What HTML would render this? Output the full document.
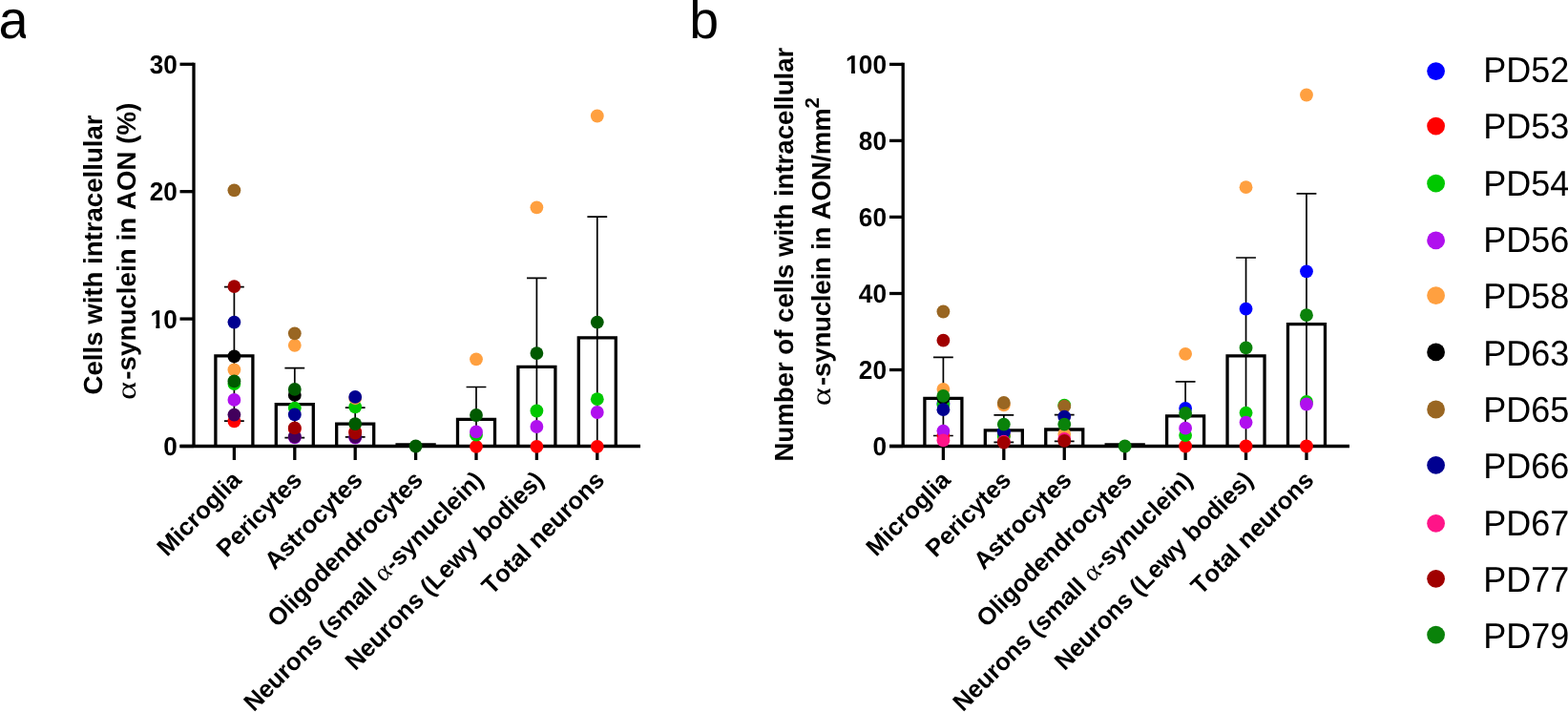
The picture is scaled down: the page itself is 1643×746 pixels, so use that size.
<!DOCTYPE html>
<html lang="en"><head><meta charset="utf-8"><title>Figure</title>
<style>html,body{margin:0;padding:0;background:#fff;overflow:hidden}body{width:1643px;height:746px}svg{display:block}</style>
</head><body>
<svg width="1643" height="746" viewBox="0 0 1643 746" style="display:block;font-kerning:none" text-rendering="geometricPrecision">
<rect width="1643" height="746" fill="#ffffff"/>
<clipPath id="pa"><rect x="-4" y="0" width="31.1" height="60"/></clipPath>
<g clip-path="url(#pa)"><text x="-1.6" y="39.9" font-family="Liberation Sans, sans-serif" font-size="56">a</text></g>
<text x="722.3" y="40.4" font-family="Liberation Sans, sans-serif" font-size="55.5">b</text>
<path d="M245.40 300.60V441.10M235.00 300.60H255.80M235.00 441.10H255.80" stroke="#000" stroke-width="1.7" fill="none"/>
<path d="M308.80 385.60V458.60M298.40 385.60H319.20M298.40 458.60H319.20" stroke="#000" stroke-width="1.7" fill="none"/>
<path d="M372.20 427.20V457.80M361.80 427.20H382.60M361.80 457.80H382.60" stroke="#000" stroke-width="1.7" fill="none"/>
<path d="M499.00 405.50V467.50M488.60 405.50H509.40" stroke="#000" stroke-width="1.7" fill="none"/>
<path d="M562.40 291.40V467.50M552.00 291.40H572.80" stroke="#000" stroke-width="1.7" fill="none"/>
<path d="M625.80 227.10V467.50M615.40 227.10H636.20" stroke="#000" stroke-width="1.7" fill="none"/>
<path d="M225.90 467.50V372.80H264.90V467.50" stroke="#000" stroke-width="3.3" fill="none" stroke-linejoin="miter"/>
<path d="M289.30 467.50V423.60H328.30V467.50" stroke="#000" stroke-width="3.3" fill="none" stroke-linejoin="miter"/>
<path d="M352.70 467.50V444.10H391.70V467.50" stroke="#000" stroke-width="3.3" fill="none" stroke-linejoin="miter"/>
<path d="M416.10 467.50V465.90H455.10V467.50" stroke="#000" stroke-width="3.3" fill="none" stroke-linejoin="miter"/>
<path d="M479.50 467.50V439.40H518.50V467.50" stroke="#000" stroke-width="3.3" fill="none" stroke-linejoin="miter"/>
<path d="M542.90 467.50V384.30H581.90V467.50" stroke="#000" stroke-width="3.3" fill="none" stroke-linejoin="miter"/>
<path d="M606.30 467.50V353.90H645.30V467.50" stroke="#000" stroke-width="3.3" fill="none" stroke-linejoin="miter"/>
<path d="M188.50 467.50H671.00M203.00 65.65V469.15" stroke="#000" stroke-width="3.3" fill="none"/>
<path d="M188.50 67.30H203.00" stroke="#000" stroke-width="3.3"/>
<text transform="translate(185.80 76.90) scale(1 1.04)" text-anchor="end" font-family="Liberation Sans, sans-serif" font-weight="bold" font-size="26.2">30</text>
<path d="M188.50 200.70H203.00" stroke="#000" stroke-width="3.3"/>
<text transform="translate(185.80 210.30) scale(1 1.04)" text-anchor="end" font-family="Liberation Sans, sans-serif" font-weight="bold" font-size="26.2">20</text>
<path d="M188.50 334.10H203.00" stroke="#000" stroke-width="3.3"/>
<clipPath id="onea10"><path d="M153.46 314.88H188.80V346.70H171.83V339.51H167.38V346.70H163.35V339.51H153.46Z"/></clipPath>
<g clip-path="url(#onea10)"><text transform="translate(156.66 343.70) scale(1 1.04)" font-family="Liberation Sans, sans-serif" font-weight="bold" font-size="26.2"><tspan dx="0.8">1</tspan><tspan dx="-0.8">0</tspan></text></g>
<path d="M188.50 467.50H203.00" stroke="#000" stroke-width="3.3"/>
<text transform="translate(185.80 477.10) scale(1 1.04)" text-anchor="end" font-family="Liberation Sans, sans-serif" font-weight="bold" font-size="26.2">0</text>
<path d="M245.40 467.50V482.00" stroke="#000" stroke-width="3.3"/>
<path d="M308.80 467.50V482.00" stroke="#000" stroke-width="3.3"/>
<path d="M372.20 467.50V482.00" stroke="#000" stroke-width="3.3"/>
<path d="M435.60 467.50V482.00" stroke="#000" stroke-width="3.3"/>
<path d="M499.00 467.50V482.00" stroke="#000" stroke-width="3.3"/>
<path d="M562.40 467.50V482.00" stroke="#000" stroke-width="3.3"/>
<path d="M625.80 467.50V482.00" stroke="#000" stroke-width="3.3"/>
<circle cx="245.40" cy="441.40" r="6.9" fill="#ff0000"/>
<circle cx="308.80" cy="449.50" r="6.9" fill="#ff0000"/>
<circle cx="372.20" cy="452.50" r="6.9" fill="#ff0000"/>
<circle cx="499.00" cy="467.80" r="6.9" fill="#ff0000"/>
<circle cx="562.40" cy="467.80" r="6.9" fill="#ff0000"/>
<circle cx="625.80" cy="467.80" r="6.9" fill="#ff0000"/>
<circle cx="245.40" cy="402.10" r="6.9" fill="#00c800"/>
<circle cx="308.80" cy="427.60" r="6.9" fill="#00c800"/>
<circle cx="372.20" cy="426.30" r="6.9" fill="#00c800"/>
<circle cx="499.00" cy="455.70" r="6.9" fill="#00c800"/>
<circle cx="562.40" cy="430.50" r="6.9" fill="#00c800"/>
<circle cx="625.80" cy="418.20" r="6.9" fill="#00c800"/>
<circle cx="245.40" cy="418.90" r="6.9" fill="#b010ee"/>
<circle cx="308.80" cy="458.30" r="6.9" fill="#b010ee"/>
<circle cx="372.20" cy="458.60" r="6.9" fill="#b010ee"/>
<circle cx="499.00" cy="452.40" r="6.9" fill="#b010ee"/>
<circle cx="562.40" cy="447.00" r="6.9" fill="#b010ee"/>
<circle cx="625.80" cy="432.00" r="6.9" fill="#b010ee"/>
<circle cx="245.40" cy="387.40" r="6.9" fill="#ffa040"/>
<circle cx="308.80" cy="361.80" r="6.9" fill="#ffa040"/>
<circle cx="372.20" cy="417.00" r="6.9" fill="#ffa040"/>
<circle cx="499.00" cy="376.30" r="6.9" fill="#ffa040"/>
<circle cx="562.40" cy="217.30" r="6.9" fill="#ffa040"/>
<circle cx="625.80" cy="121.50" r="6.9" fill="#ffa040"/>
<circle cx="245.40" cy="373.40" r="6.9" fill="#000000"/>
<circle cx="308.80" cy="413.90" r="6.9" fill="#000000"/>
<circle cx="245.40" cy="199.30" r="6.9" fill="#996622"/>
<circle cx="308.80" cy="349.30" r="6.9" fill="#996622"/>
<circle cx="245.40" cy="337.60" r="6.9" fill="#000090"/>
<circle cx="308.80" cy="434.40" r="6.9" fill="#000090"/>
<circle cx="372.20" cy="415.90" r="6.9" fill="#000090"/>
<circle cx="245.40" cy="434.60" r="6.9" fill="#42005c"/>
<circle cx="308.80" cy="457.50" r="6.9" fill="#42005c"/>
<circle cx="372.20" cy="457.80" r="6.9" fill="#42005c"/>
<circle cx="245.40" cy="300.10" r="6.9" fill="#a00000"/>
<circle cx="308.80" cy="448.40" r="6.9" fill="#a00000"/>
<circle cx="372.20" cy="453.50" r="6.9" fill="#a00000"/>
<circle cx="245.40" cy="399.40" r="6.9" fill="#005a00"/>
<circle cx="308.80" cy="407.90" r="6.9" fill="#005a00"/>
<circle cx="372.20" cy="444.10" r="6.9" fill="#005a00"/>
<circle cx="435.60" cy="467.50" r="6.9" fill="#005a00"/>
<circle cx="499.00" cy="435.00" r="6.9" fill="#005a00"/>
<circle cx="562.40" cy="370.10" r="6.9" fill="#005a00"/>
<circle cx="625.80" cy="337.60" r="6.9" fill="#005a00"/>
<text transform="translate(254.40 504.50) rotate(-45)" text-anchor="end" font-family="Liberation Sans, sans-serif" font-weight="bold" font-size="25.6">Microglia</text>
<text transform="translate(317.80 504.50) rotate(-45)" text-anchor="end" font-family="Liberation Sans, sans-serif" font-weight="bold" font-size="25.6">Pericytes</text>
<text transform="translate(381.20 504.50) rotate(-45)" text-anchor="end" font-family="Liberation Sans, sans-serif" font-weight="bold" font-size="25.6">Astrocytes</text>
<text transform="translate(444.60 504.50) rotate(-45)" text-anchor="end" font-family="Liberation Sans, sans-serif" font-weight="bold" font-size="25.6">Oligodendrocytes</text>
<text transform="translate(508.00 504.50) rotate(-45)" x="-342.42" font-family="Liberation Sans, sans-serif" font-weight="bold" font-size="25.6">Neurons (small <tspan font-family="Liberation Serif, serif" font-weight="normal" font-size="26.50" textLength="14.60" lengthAdjust="spacingAndGlyphs">α</tspan><tspan dx="0.70">-synuclein)</tspan></text>
<text transform="translate(571.40 504.50) rotate(-45)" text-anchor="end" font-family="Liberation Sans, sans-serif" font-weight="bold" font-size="25.6">Neurons (Lewy bodies)</text>
<text transform="translate(634.80 504.50) rotate(-45)" text-anchor="end" font-family="Liberation Sans, sans-serif" font-weight="bold" font-size="25.6">Total neurons</text>
<text transform="translate(107.00 413.40) rotate(-90)" font-family="Liberation Sans, sans-serif" font-weight="bold" font-size="27.6">Cells with intracellular</text>
<text transform="translate(141.70 419.10) rotate(-90)" font-family="Liberation Sans, sans-serif" font-weight="bold" font-size="27.6"><tspan font-family="Liberation Serif, serif" font-weight="normal" font-size="29.00" textLength="19.13" lengthAdjust="spacingAndGlyphs">α</tspan><tspan dx="2.30"><tspan letter-spacing="0.09">-synuclein in AON (%)</tspan></tspan></text>
<path d="M988.40 374.30V456.50M978.00 374.30H998.80M978.00 456.50H998.80" stroke="#000" stroke-width="1.7" fill="none"/>
<path d="M1051.83 434.90V463.40M1041.43 434.90H1062.23M1041.43 463.40H1062.23" stroke="#000" stroke-width="1.7" fill="none"/>
<path d="M1115.26 434.60V462.40M1104.86 434.60H1125.66M1104.86 462.40H1125.66" stroke="#000" stroke-width="1.7" fill="none"/>
<path d="M1242.12 399.90V467.50M1231.72 399.90H1252.52" stroke="#000" stroke-width="1.7" fill="none"/>
<path d="M1305.55 270.00V467.50M1295.15 270.00H1315.95" stroke="#000" stroke-width="1.7" fill="none"/>
<path d="M1368.98 202.80V467.50M1358.58 202.80H1379.38" stroke="#000" stroke-width="1.7" fill="none"/>
<path d="M968.90 467.50V417.40H1007.90V467.50" stroke="#000" stroke-width="3.3" fill="none" stroke-linejoin="miter"/>
<path d="M1032.33 467.50V450.80H1071.33V467.50" stroke="#000" stroke-width="3.3" fill="none" stroke-linejoin="miter"/>
<path d="M1095.76 467.50V450.00H1134.76V467.50" stroke="#000" stroke-width="3.3" fill="none" stroke-linejoin="miter"/>
<path d="M1159.19 467.50V465.90H1198.19V467.50" stroke="#000" stroke-width="3.3" fill="none" stroke-linejoin="miter"/>
<path d="M1222.62 467.50V435.80H1261.62V467.50" stroke="#000" stroke-width="3.3" fill="none" stroke-linejoin="miter"/>
<path d="M1286.05 467.50V372.80H1325.05V467.50" stroke="#000" stroke-width="3.3" fill="none" stroke-linejoin="miter"/>
<path d="M1349.48 467.50V339.60H1388.48V467.50" stroke="#000" stroke-width="3.3" fill="none" stroke-linejoin="miter"/>
<path d="M932.00 467.50H1414.00M946.20 65.75V469.15" stroke="#000" stroke-width="3.3" fill="none"/>
<path d="M932.00 67.40H946.20" stroke="#000" stroke-width="3.3"/>
<clipPath id="oneb100"><path d="M882.08 48.18H932.00V80.00H900.46V72.81H896.01V80.00H891.98V72.81H882.08Z"/></clipPath>
<g clip-path="url(#oneb100)"><text transform="translate(885.28 77.00) scale(1 1.04)" font-family="Liberation Sans, sans-serif" font-weight="bold" font-size="26.2"><tspan dx="0.8">1</tspan><tspan dx="-0.8">00</tspan></text></g>
<path d="M932.00 147.40H946.20" stroke="#000" stroke-width="3.3"/>
<text transform="translate(929.00 157.00) scale(1 1.04)" text-anchor="end" font-family="Liberation Sans, sans-serif" font-weight="bold" font-size="26.2">80</text>
<path d="M932.00 227.40H946.20" stroke="#000" stroke-width="3.3"/>
<text transform="translate(929.00 237.00) scale(1 1.04)" text-anchor="end" font-family="Liberation Sans, sans-serif" font-weight="bold" font-size="26.2">60</text>
<path d="M932.00 307.50H946.20" stroke="#000" stroke-width="3.3"/>
<text transform="translate(929.00 317.10) scale(1 1.04)" text-anchor="end" font-family="Liberation Sans, sans-serif" font-weight="bold" font-size="26.2">40</text>
<path d="M932.00 387.50H946.20" stroke="#000" stroke-width="3.3"/>
<text transform="translate(929.00 397.10) scale(1 1.04)" text-anchor="end" font-family="Liberation Sans, sans-serif" font-weight="bold" font-size="26.2">20</text>
<path d="M932.00 467.50H946.20" stroke="#000" stroke-width="3.3"/>
<text transform="translate(929.00 477.10) scale(1 1.04)" text-anchor="end" font-family="Liberation Sans, sans-serif" font-weight="bold" font-size="26.2">0</text>
<path d="M988.40 467.50V482.00" stroke="#000" stroke-width="3.3"/>
<path d="M1051.83 467.50V482.00" stroke="#000" stroke-width="3.3"/>
<path d="M1115.26 467.50V482.00" stroke="#000" stroke-width="3.3"/>
<path d="M1178.69 467.50V482.00" stroke="#000" stroke-width="3.3"/>
<path d="M1242.12 467.50V482.00" stroke="#000" stroke-width="3.3"/>
<path d="M1305.55 467.50V482.00" stroke="#000" stroke-width="3.3"/>
<path d="M1368.98 467.50V482.00" stroke="#000" stroke-width="3.3"/>
<circle cx="988.40" cy="422.70" r="6.9" fill="#0000ff"/>
<circle cx="1051.83" cy="452.60" r="6.9" fill="#0000ff"/>
<circle cx="1242.12" cy="427.90" r="6.9" fill="#0000ff"/>
<circle cx="1305.55" cy="323.70" r="6.9" fill="#0000ff"/>
<circle cx="1368.98" cy="284.30" r="6.9" fill="#0000ff"/>
<circle cx="988.40" cy="456.20" r="6.9" fill="#ff0000"/>
<circle cx="1051.83" cy="456.50" r="6.9" fill="#ff0000"/>
<circle cx="1242.12" cy="467.50" r="6.9" fill="#ff0000"/>
<circle cx="1305.55" cy="467.50" r="6.9" fill="#ff0000"/>
<circle cx="1368.98" cy="467.50" r="6.9" fill="#ff0000"/>
<circle cx="988.40" cy="424.00" r="6.9" fill="#00c800"/>
<circle cx="1051.83" cy="457.30" r="6.9" fill="#00c800"/>
<circle cx="1115.26" cy="424.60" r="6.9" fill="#00c800"/>
<circle cx="1242.12" cy="456.10" r="6.9" fill="#00c800"/>
<circle cx="1305.55" cy="432.60" r="6.9" fill="#00c800"/>
<circle cx="1368.98" cy="420.90" r="6.9" fill="#00c800"/>
<circle cx="988.40" cy="451.60" r="6.9" fill="#b010ee"/>
<circle cx="1242.12" cy="448.70" r="6.9" fill="#b010ee"/>
<circle cx="1305.55" cy="442.60" r="6.9" fill="#b010ee"/>
<circle cx="1368.98" cy="423.50" r="6.9" fill="#b010ee"/>
<circle cx="988.40" cy="407.80" r="6.9" fill="#ffa040"/>
<circle cx="1051.83" cy="424.30" r="6.9" fill="#ffa040"/>
<circle cx="1115.26" cy="454.90" r="6.9" fill="#ffa040"/>
<circle cx="1242.12" cy="370.80" r="6.9" fill="#ffa040"/>
<circle cx="1305.55" cy="196.20" r="6.9" fill="#ffa040"/>
<circle cx="1368.98" cy="99.50" r="6.9" fill="#ffa040"/>
<circle cx="988.40" cy="417.00" r="6.9" fill="#000000"/>
<circle cx="988.40" cy="326.50" r="6.9" fill="#996622"/>
<circle cx="1051.83" cy="422.00" r="6.9" fill="#996622"/>
<circle cx="1115.26" cy="425.70" r="6.9" fill="#996622"/>
<circle cx="988.40" cy="429.20" r="6.9" fill="#000090"/>
<circle cx="1051.83" cy="452.80" r="6.9" fill="#000090"/>
<circle cx="1115.26" cy="436.60" r="6.9" fill="#000090"/>
<circle cx="988.40" cy="461.40" r="6.9" fill="#ff1488"/>
<circle cx="1051.83" cy="462.70" r="6.9" fill="#ff1488"/>
<circle cx="1115.26" cy="460.00" r="6.9" fill="#ff1488"/>
<circle cx="988.40" cy="356.70" r="6.9" fill="#a00000"/>
<circle cx="1051.83" cy="463.70" r="6.9" fill="#a00000"/>
<circle cx="1115.26" cy="461.90" r="6.9" fill="#a00000"/>
<circle cx="988.40" cy="414.80" r="6.9" fill="#0a820a"/>
<circle cx="1051.83" cy="444.60" r="6.9" fill="#0a820a"/>
<circle cx="1115.26" cy="444.60" r="6.9" fill="#0a820a"/>
<circle cx="1178.69" cy="467.50" r="6.9" fill="#0a820a"/>
<circle cx="1242.12" cy="433.00" r="6.9" fill="#0a820a"/>
<circle cx="1305.55" cy="364.40" r="6.9" fill="#0a820a"/>
<circle cx="1368.98" cy="330.20" r="6.9" fill="#0a820a"/>
<text transform="translate(997.40 504.50) rotate(-45)" text-anchor="end" font-family="Liberation Sans, sans-serif" font-weight="bold" font-size="25.6">Microglia</text>
<text transform="translate(1060.83 504.50) rotate(-45)" text-anchor="end" font-family="Liberation Sans, sans-serif" font-weight="bold" font-size="25.6">Pericytes</text>
<text transform="translate(1124.26 504.50) rotate(-45)" text-anchor="end" font-family="Liberation Sans, sans-serif" font-weight="bold" font-size="25.6">Astrocytes</text>
<text transform="translate(1187.69 504.50) rotate(-45)" text-anchor="end" font-family="Liberation Sans, sans-serif" font-weight="bold" font-size="25.6">Oligodendrocytes</text>
<text transform="translate(1251.12 504.50) rotate(-45)" x="-342.42" font-family="Liberation Sans, sans-serif" font-weight="bold" font-size="25.6">Neurons (small <tspan font-family="Liberation Serif, serif" font-weight="normal" font-size="26.50" textLength="14.60" lengthAdjust="spacingAndGlyphs">α</tspan><tspan dx="0.70">-synuclein)</tspan></text>
<text transform="translate(1314.55 504.50) rotate(-45)" text-anchor="end" font-family="Liberation Sans, sans-serif" font-weight="bold" font-size="25.6">Neurons (Lewy bodies)</text>
<text transform="translate(1377.98 504.50) rotate(-45)" text-anchor="end" font-family="Liberation Sans, sans-serif" font-weight="bold" font-size="25.6">Total neurons</text>
<text transform="translate(831.00 483.60) rotate(-90)" font-family="Liberation Sans, sans-serif" font-weight="bold" font-size="27.6">Number of cells with intracellular</text>
<text transform="translate(870.40 425.30) rotate(-90)" font-family="Liberation Sans, sans-serif" font-weight="bold" font-size="27.6"><tspan font-family="Liberation Serif, serif" font-weight="normal" font-size="29.00" textLength="19.13" lengthAdjust="spacingAndGlyphs">α</tspan><tspan dx="2.30"><tspan letter-spacing="-0.2">-synuclein in AON/mm<tspan font-size="20.5" dy="-12.6">2</tspan></tspan></tspan></text>
<circle cx="1504.6" cy="74.60" r="9.4" fill="#0000ff"/>
<text transform="translate(1554.2 85.80) scale(1 1.04)" font-family="Liberation Sans, sans-serif" font-size="36">PD52</text>
<circle cx="1504.6" cy="132.10" r="9.4" fill="#ff0000"/>
<text transform="translate(1554.2 145.16) scale(1 1.04)" font-family="Liberation Sans, sans-serif" font-size="36">PD53</text>
<circle cx="1504.6" cy="192.20" r="9.4" fill="#00c800"/>
<text transform="translate(1554.2 204.52) scale(1 1.04)" font-family="Liberation Sans, sans-serif" font-size="36">PD54</text>
<circle cx="1504.6" cy="251.80" r="9.4" fill="#b010ee"/>
<text transform="translate(1554.2 263.88) scale(1 1.04)" font-family="Liberation Sans, sans-serif" font-size="36">PD56</text>
<circle cx="1504.6" cy="309.70" r="9.4" fill="#ffa040"/>
<text transform="translate(1554.2 323.24) scale(1 1.04)" font-family="Liberation Sans, sans-serif" font-size="36">PD58</text>
<circle cx="1504.6" cy="368.90" r="9.4" fill="#000000"/>
<text transform="translate(1554.2 382.60) scale(1 1.04)" font-family="Liberation Sans, sans-serif" font-size="36">PD63</text>
<circle cx="1504.6" cy="429.00" r="9.4" fill="#996622"/>
<text transform="translate(1554.2 441.96) scale(1 1.04)" font-family="Liberation Sans, sans-serif" font-size="36">PD65</text>
<circle cx="1504.6" cy="487.40" r="9.4" fill="#000090"/>
<text transform="translate(1554.2 501.32) scale(1 1.04)" font-family="Liberation Sans, sans-serif" font-size="36">PD66</text>
<circle cx="1504.6" cy="548.40" r="9.4" fill="#ff1488"/>
<text transform="translate(1554.2 560.68) scale(1 1.04)" font-family="Liberation Sans, sans-serif" font-size="36">PD67</text>
<circle cx="1504.6" cy="606.30" r="9.4" fill="#a00000"/>
<text transform="translate(1554.2 620.04) scale(1 1.04)" font-family="Liberation Sans, sans-serif" font-size="36">PD77</text>
<circle cx="1504.6" cy="665.10" r="9.4" fill="#0a820a"/>
<text transform="translate(1554.2 679.40) scale(1 1.04)" font-family="Liberation Sans, sans-serif" font-size="36">PD79</text>
</svg>
</body></html>
